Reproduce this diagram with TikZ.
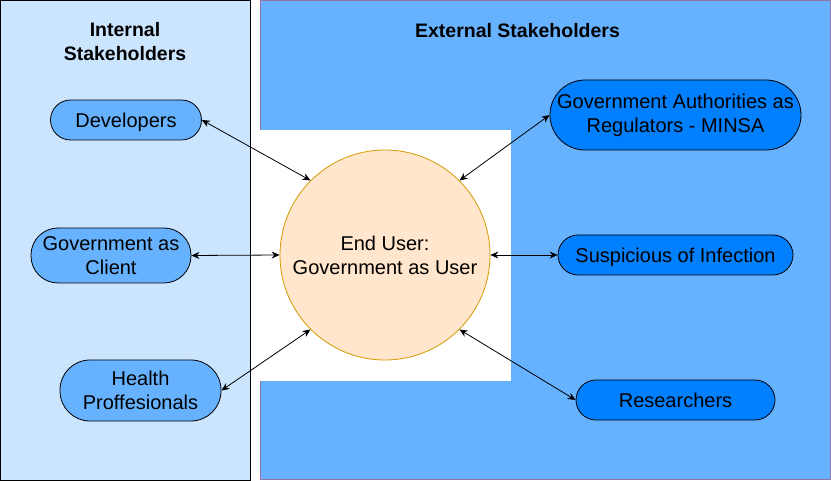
\documentclass[tikz,border=0pt]{standalone}
\usepackage{fontspec}
\setmainfont{Liberation Sans}
\usetikzlibrary{arrows.meta}
\definecolor{intfill}{HTML}{CCE5FF}
\definecolor{extfill}{HTML}{66B2FF}
\definecolor{extline}{HTML}{9673A6}
\definecolor{darkfill}{HTML}{007FFF}
\definecolor{userfill}{HTML}{FFE6CC}
\definecolor{userline}{HTML}{D79B00}
\begin{document}
\begin{tikzpicture}[x=1pt, y=-1pt,
    actor/.style={draw, line width=0.8pt, rounded corners=20pt, align=center, inner sep=0pt,
      font=\fontsize{20}{24}\selectfont},
    oneline/.style={text depth=0pt},
    inner/.style={actor, fill=extfill},
    outer/.style={actor, fill=darkfill},
    title/.style={align=center, font=\fontsize{19.5}{24}\selectfont\bfseries},
    link/.style={{Stealth[length=8pt,width=7pt]}-{Stealth[length=8pt,width=7pt]}, line width=0.8pt}]
      \useasboundingbox (0,0) rectangle (831,481);
      % Panels:
      \draw[line width=0.8pt, fill=intfill] (0.5,0.5) rectangle (250,480.5);
      \draw[line width=0.8pt, extline, fill=extfill] (260,0.5) rectangle (830.5,479.5);
      \fill[white] (260,130) rectangle (511,381);
      \node[title] (inttitle) at (125,42) {Internal\\Stakeholders};
      \node[title] (exttitle) at (517.5,31) {External Stakeholders};
      % End user:
      \node[circle, draw=userline, line width=0.8pt, fill=userfill, minimum size=210pt, align=center,
        font=\fontsize{20}{24}\selectfont] (user) at (385,255) {End User:\\Government as User};
      % Internal stakeholders:
      \node[inner, oneline, minimum width=151pt, minimum height=40pt] (dev) at (126,120) {Developers};
      \node[inner, minimum width=160pt, minimum height=55pt, rounded corners=27pt] (client) at (111,255.5) {Government as\\Client};
      \node[inner, minimum width=161pt, minimum height=61pt, rounded corners=30pt] (health) at (140.5,390.5) {Health\\Proffesionals};
      % External stakeholders:
      \node[outer, minimum width=251pt, minimum height=70pt, rounded corners=35pt] (minsa) at (675.5,115) {Government Authorities as\\Regulators - MINSA};
      \node[outer, oneline, minimum width=235pt, minimum height=40pt] (suspect) at (675.5,255) {Suspicious of Infection};
      \node[outer, oneline, minimum width=199pt, minimum height=40pt] (research) at (675.5,400) {Researchers};
      % Links:
      \draw[link] (dev.east) -- (user.135);
      \draw[link] (client.east) -- (user.west);
      \draw[link] (health.east) -- (user.225);
      \draw[link] (minsa.west) -- (user.45);
      \draw[link] (suspect.west) -- (user.east);
      \draw[link] (research.west) -- (user.315);
    \end{tikzpicture}
\end{document}
